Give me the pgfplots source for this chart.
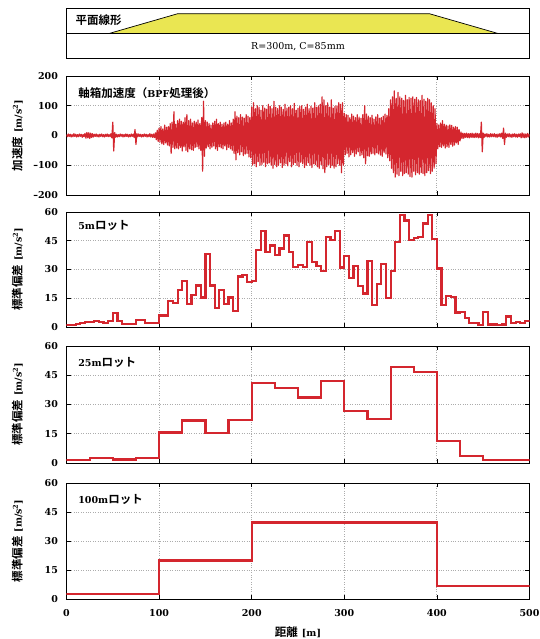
\documentclass[border=0pt]{standalone}
\usepackage{fontspec}
\usepackage{pgfplots}
\pgfplotsset{compat=1.18}
\setmainfont{DejaVu Serif}
\newfontfamily\jp{Noto Sans CJK JP}[BoldFont={Noto Sans CJK JP Bold}]
\definecolor{sigred}{RGB}{212,38,46}
\definecolor{trapy}{RGB}{234,230,82}
\newcommand{\fs}{\fontsize{9.5}{11}\selectfont\bfseries}
\newcommand{\fj}{\fontsize{11.5}{13}\selectfont\bfseries}
\pgfplotsset{
  panel/.style={
    scale only axis, width=463pt, xmin=0, xmax=500,
    xtick={0,100,200,300,400,500}, xticklabels={},
    grid=major, major grid style={dotted, gray!65, line width=0.9pt},
    axis line style={line width=0.9pt},
    tick style={black, line width=0.8pt},
    anchor=south west,
    ylabel style={at={(axis description cs:-0.106,0.5)}, anchor=center, font=\fj},
    yticklabel style={font=\fs, xshift=-5pt},
    xticklabel style={font=\fs, yshift=-7pt},
  },
  stdpanel/.style={panel, ymin=0, ymax=60, ytick={0,15,30,45,60}, yticklabels={0,15,30,45,60},
    ylabel={{\jp 標準偏差} {\fs[m/s\textsuperscript{2}]}}},
}
\begin{document}
\begin{tikzpicture}
\useasboundingbox (0pt,0pt) rectangle (539pt,639pt);

% top box
\begin{axis}[scale only axis, width=463pt, height=50pt, at={(66.5pt,580.5pt)}, anchor=south west,
  xmin=0, xmax=500, ymin=0, ymax=2, xtick=\empty, ytick=\empty, axis line style={line width=1pt}]
\addplot[fill=trapy, draw=black, line width=0.7pt] coordinates {(46,1) (120,1.79) (392,1.79) (466,1)} -- cycle;
\addplot[black, line width=1pt] coordinates {(0,1) (500,1)};
\node[anchor=west, font=\fj] at (rel axis cs:0.012,0.77) {\jp 平面線形};
\node[font=\fontsize{9.5}{11}\selectfont] at (axis cs:250,0.48) {R=300m, C=85mm};
\end{axis}

% acceleration
\begin{axis}[panel, height=119pt, at={(66.5pt,444pt)}, ymin=-200, ymax=200,
  ytick={-200,-100,0,100,200}, yticklabels={--200,--100,0,100,200},
  ylabel={{\jp 加速度} {\fs[m/s\textsuperscript{2}]}}]
\addplot[sigred, line width=1.2pt, line join=round] coordinates {
(0,3)(1,-4)(2,5)(3,-3)(4,4)(5,-5)(6,3)(7,-4)(8,6)(9,-3)
(10,4)(11,-5)(12,3)(13,-4)(14,5)(15,-3)(16,4)(17,-6)(18,3)(19,-4)
(20,7)(21,-9)(22,10)(23,-8)(24,9)(25,-10)(26,8)(27,-7)(28,6)(29,-5)
(30,4)(31,-3)(32,5)(33,-4)(34,3)(35,-5)(36,4)(37,-3)(38,5)(39,-4)
(40,3)(41,-5)(42,4)(43,-3)(44,5)(45,-4)(46,3)(47,-4)(48,6)(49,-8)
(50,45)(51,-52)(52,10)(53,-6)(54,4)(55,-5)(56,3)(57,-4)(58,5)(59,-3)
(60,4)(61,-5)(62,3)(63,-4)(64,5)(65,-3)(66,4)(67,-5)(68,3)(69,-4)
(70,5)(71,-3)(72,4)(73,-6)(74,20)(75,-30)(76,6)(77,-4)(78,5)(79,-3)
(80,4)(81,-5)(82,3)(83,-4)(84,5)(85,-3)(86,4)(87,-5)(88,3)(89,-4)
(90,6)(91,-5)(92,4)(93,-6)(94,5)(95,-7)(96,9)(97,-14)(98,18)(99,-20)
(100,25)(101,-22)(102,30)(103,-28)(104,22)(105,-30)(106,35)(107,-25)(108,28)(109,-32)
(110,30)(111,-35)(112,40)(113,-60)(114,45)(115,-40)(116,80)(117,-45)(118,38)(119,-42)
(120,50)(121,-45)(122,55)(123,-40)(124,48)(125,-52)(126,45)(127,-38)(128,60)(129,-50)
(130,70)(131,-55)(132,50)(133,-45)(134,55)(135,-48)(136,42)(137,-50)(138,48)(139,-40)
(140,45)(141,-38)(142,52)(143,-45)(144,40)(145,-50)(146,60)(147,-120)(148,115)(149,-70)
(150,50)(151,-42)(152,45)(153,-38)(154,40)(155,-45)(156,35)(157,-40)(158,42)(159,-35)
(160,48)(161,-45)(162,55)(163,-50)(164,40)(165,-38)(166,45)(167,-42)(168,38)(169,-45)
(170,42)(171,-35)(172,45)(173,-48)(174,38)(175,-40)(176,50)(177,-45)(178,42)(179,-50)
(180,55)(181,-60)(182,80)(183,-82)(184,65)(185,-58)(186,60)(187,-65)(188,70)(189,-55)
(190,62)(191,-68)(192,58)(193,-62)(194,70)(195,-60)(196,65)(197,-72)(198,60)(199,-75)
(200,95)(201,-100)(202,110)(203,-95)(204,90)(205,-105)(206,100)(207,-88)(208,95)(209,-100)
(210,85)(211,-98)(212,100)(213,-90)(214,92)(215,-105)(216,88)(217,-95)(218,105)(219,-92)
(220,98)(221,-100)(222,90)(223,-110)(224,115)(225,-98)(226,95)(227,-105)(228,90)(229,-100)
(230,100)(231,-92)(232,95)(233,-108)(234,88)(235,-100)(236,105)(237,-95)(238,92)(239,-102)
(240,95)(241,-88)(242,100)(243,-105)(244,90)(245,-98)(246,108)(247,-92)(248,85)(249,-100)
(250,92)(251,-105)(252,98)(253,-90)(254,100)(255,-95)(256,88)(257,-108)(258,95)(259,-100)
(260,105)(261,-92)(262,90)(263,-100)(264,98)(265,-108)(266,92)(267,-95)(268,110)(269,-98)
(270,95)(271,-105)(272,100)(273,-110)(274,105)(275,-98)(276,130)(277,-112)(278,120)(279,-125)
(280,100)(281,-105)(282,110)(283,-98)(284,95)(285,-108)(286,120)(287,-100)(288,92)(289,-110)
(290,98)(291,-105)(292,100)(293,-95)(294,110)(295,-100)(296,105)(297,-125)(298,110)(299,-100)
(300,75)(301,-65)(302,70)(303,-60)(304,68)(305,-72)(306,60)(307,-65)(308,72)(309,-58)
(310,65)(311,-70)(312,60)(313,-62)(314,70)(315,-55)(316,62)(317,-68)(318,58)(319,-65)
(320,70)(321,-75)(322,100)(323,-95)(324,72)(325,-68)(326,65)(327,-70)(328,60)(329,-62)
(330,68)(331,-60)(332,55)(333,-65)(334,62)(335,-58)(336,70)(337,-62)(338,58)(339,-66)
(340,60)(341,-70)(342,65)(343,-58)(344,72)(345,-62)(346,68)(347,-75)(348,90)(349,-85)
(350,120)(351,-110)(352,130)(353,-125)(354,150)(355,-140)(356,125)(357,-130)(358,145)(359,-135)
(360,130)(361,-120)(362,125)(363,-135)(364,118)(365,-128)(366,135)(367,-125)(368,120)(369,-130)
(370,128)(371,-138)(372,125)(373,-140)(374,130)(375,-120)(376,122)(377,-132)(378,128)(379,-125)
(380,120)(381,-130)(382,118)(383,-125)(384,135)(385,-128)(386,122)(387,-135)(388,115)(389,-125)
(390,125)(391,-118)(392,120)(393,-128)(394,110)(395,-120)(396,100)(397,-110)(398,90)(399,-95)
(400,40)(401,-45)(402,35)(403,-38)(404,42)(405,-40)(406,50)(407,-35)(408,38)(409,-42)
(410,35)(411,-38)(412,32)(413,-40)(414,36)(415,-30)(416,34)(417,-36)(418,28)(419,-32)
(420,30)(421,-25)(422,28)(423,-30)(424,20)(425,-18)(426,12)(427,-10)(428,8)(429,-9)
(430,7)(431,-6)(432,8)(433,-7)(434,6)(435,-8)(436,7)(437,-6)(438,8)(439,-7)
(440,6)(441,-7)(442,8)(443,-6)(444,7)(445,-8)(446,6)(447,-7)(448,45)(449,-55)
(450,8)(451,-6)(452,5)(453,-4)(454,6)(455,-5)(456,4)(457,-5)(458,6)(459,-4)
(460,5)(461,-4)(462,6)(463,-5)(464,4)(465,-6)(466,5)(467,-4)(468,6)(469,-5)
(470,8)(471,-10)(472,25)(473,-30)(474,8)(475,-6)(476,5)(477,-4)(478,6)(479,-5)
(480,4)(481,-6)(482,5)(483,-4)(484,6)(485,-5)(486,4)(487,-6)(488,5)(489,-4)
(490,6)(491,-8)(492,9)(493,-7)(494,6)(495,-8)(496,5)(497,-6)(498,7)(499,-5)(500,4)
};
\node[anchor=west, font=\fj] at (rel axis cs:0.018,0.855) {{\jp 軸箱加速度（}{\fs BPF}{\jp 処理後）}};
\end{axis}

% 5 m lots
\begin{axis}[stdpanel, height=115pt, at={(66.5pt,312pt)}]
\addplot[const plot, sigred, line width=2.2pt] coordinates {
(0,1)(5,1)(10,1.5)(15,2)(20,2.5)(25,2.5)(30,3)(35,2.5)(40,2)(45,3)
(50,7.5)(55,3)(60,1.5)(65,1.5)(70,1.5)(75,3.5)(80,3.5)(85,2)(90,2)(95,2)
(100,6)(105,6)(110,13.7)(115,12.5)(120,19.4)(125,24)(130,12)(135,16.8)(140,21.7)(145,15.4)
(150,38)(155,21.7)(160,10)(165,19.4)(170,12)(175,15.4)(180,8.5)(185,26.3)(190,27)(195,23.5)
(200,24)(205,40)(210,50)(215,39.3)(220,42.5)(225,37.6)(230,41)(235,47.7)(240,39.3)(245,31.5)
(250,32.4)(255,31.5)(260,44.2)(265,33.8)(270,31.9)(275,29.3)(280,47.1)(285,45.4)(290,50)(295,31)
(300,37)(305,25.5)(310,32)(315,21.5)(320,17.5)(325,34.3)(330,11.4)(335,22.5)(340,32.7)(345,15)
(350,29.3)(355,44.3)(360,58.5)(365,55.6)(370,45.5)(375,46.4)(380,47)(385,54)(390,58.5)(395,46)
(400,30.5)(405,11.5)(410,16)(415,15.6)(420,7.6)(425,7.8)(430,4.5)(435,2)(440,2)(445,1.2)
(450,8)(455,1.3)(460,1.3)(465,1.2)(470,1.3)(475,5.5)(480,2)(485,2.5)(490,2)(495,3)(500,3)
};
\node[anchor=west, font=\fj] at (rel axis cs:0.018,0.88) {{\fs 5m}{\jp ロット}};
\end{axis}

% 25 m lots
\begin{axis}[stdpanel, height=117pt, at={(66.5pt,176pt)}]
\addplot[const plot, sigred, line width=2.2pt] coordinates {
(0,1.5)(25,2.6)(50,1.8)(75,2.6)(100,15.6)(125,21.8)(150,15.4)(175,22.2)
(200,40.9)(225,38.3)(250,33.6)(275,42)(300,26.5)(325,22.5)(350,49.4)(375,46.6)
(400,11.4)(425,3.6)(450,1.6)(475,1.6)(500,1.6)
};
\node[anchor=west, font=\fj] at (rel axis cs:0.018,0.86) {{\fs 25m}{\jp ロット}};
\end{axis}

% 100 m lots
\begin{axis}[stdpanel, height=116pt, at={(66.5pt,40pt)},
  xticklabels={0,100,200,300,400,500},
  xlabel={{\jp 距離} {\fs[m]}},
  xlabel style={at={(axis description cs:0.5,0)}, anchor=center, yshift=-33pt, font=\fj}]
\addplot[const plot, sigred, line width=2.2pt] coordinates {
(0,2.4)(100,19.9)(200,39.6)(400,6.6)(500,6.6)
};
\node[anchor=west, font=\fj] at (rel axis cs:0.018,0.86) {{\fs 100m}{\jp ロット}};
\end{axis}
\end{tikzpicture}
\end{document}
